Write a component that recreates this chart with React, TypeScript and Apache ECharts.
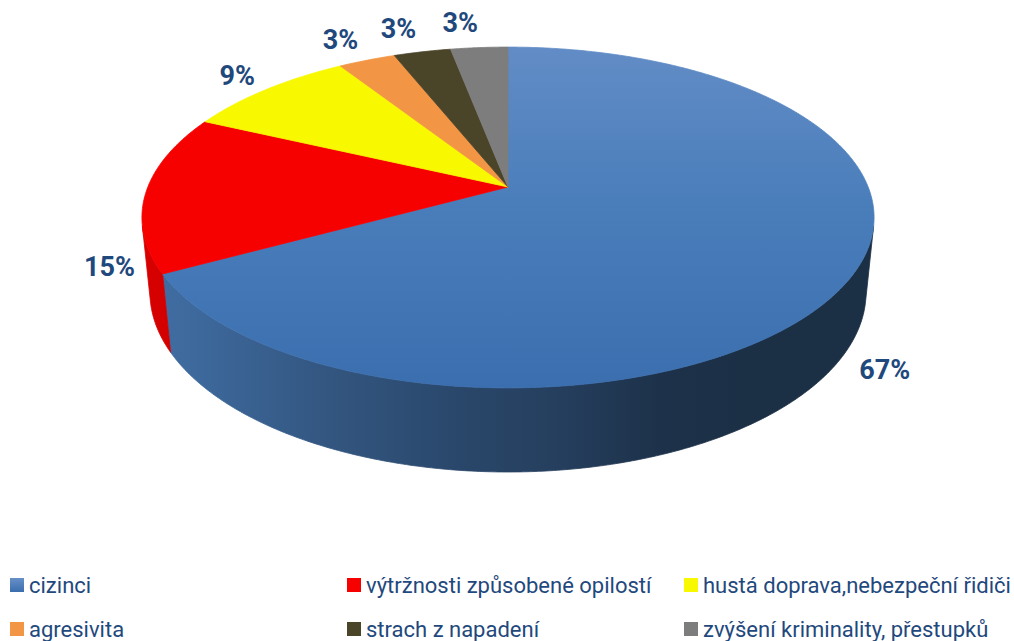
import React, { useEffect, useRef } from 'react';
import * as echarts from 'echarts';

// ---- data ----
const CATEGORIES = [
  'cizinci',
  'výtržnosti způsobené opilostí',
  'hustá doprava,nebezpeční řidiči',
  'agresivita',
  'strach z napadení',
  'zvýšení kriminality, přestupků',
];
const VALUES = [67, 15, 9, 3, 3, 3];

// ---- styles ----
const COLORS = ['#4a7ebb', '#f70000', '#f8f800', '#f29544', '#4a4429', '#7d7d7d'];
const LABEL_COLOR = '#1f497d';
const LEGEND_FONT = "Roboto, 'Noto Sans', sans-serif";

// ---- derived ----
const TOTAL = VALUES.reduce((a, b) => a + b, 0);
const STARTS = VALUES.map((_, i) => VALUES.slice(0, i).reduce((a, b) => a + b, 0) / TOTAL);
const ENDS = STARTS.map((s, i) => s + VALUES[i] / TOTAL);

// ---- 3D projection (perspective) ----
const CX = 508;
const CY = 187;
const FOCAL = 1790;
const DIST = 4.97;
const SIN_T = 0.458;
const COS_T = Math.sqrt(1 - SIN_T * SIN_T);
const DEPTH = 0.235;
const TWO_PI = Math.PI * 2;

function proj(X: number, Z: number, H: number): number[] {
  const yc = Z * SIN_T + H * COS_T;
  const zc = DIST + Z * COS_T - H * SIN_T;
  return [CX + (FOCAL * X) / zc, CY - (FOCAL * yc) / zc];
}

// visible outer wall range (angle clockwise from far point)
const VIS_K = 1 / (DIST * COS_T);
const VIS0 = Math.acos(-VIS_K);
const VIS1 = TWO_PI - VIS0;

function arc(a0: number, a1: number, H: number): number[][] {
  const n = Math.max(2, Math.ceil((a1 - a0) / (Math.PI / 360)));
  const pts: number[][] = [];
  for (let k = 0; k <= n; k++) {
    const a = a0 + ((a1 - a0) * k) / n;
    pts.push(proj(Math.sin(a), Math.cos(a), H));
  }
  return pts;
}

function hexToRgb(hex: string): number[] {
  const h = hex.replace('#', '');
  return [0, 2, 4].map((o) => parseInt(h.substr(o, 2), 16));
}
function mixColor(a: number[], b: number[], t: number): string {
  const c = a.map((v, i) => Math.round(v * (1 - t) + b[i] * t));
  return `rgb(${c[0]},${c[1]},${c[2]})`;
}

const WALL_STOPS = [
  [0, 0.2],
  [0.064, 0.25],
  [0.255, 0.5],
  [0.446, 0.7],
  [0.574, 0.8],
  [0.7, 0.96],
  [0.83, 1],
  [1, 1],
];

function wallFill(base: string) {
  const b = hexToRgb(base);
  const dark = b.map((v) => v * 0.37);
  return new echarts.graphic.LinearGradient(
    140,
    0,
    880,
    0,
    WALL_STOPS.map(([o, t]) => ({ offset: o, color: mixColor(b, dark, t) })),
    true
  );
}

function topFill(i: number) {
  if (i === 0) {
    return new echarts.graphic.LinearGradient(
      0,
      47,
      0,
      390,
      [
        { offset: 0, color: '#628cc6' },
        { offset: 0.45, color: '#4a7ebb' },
        { offset: 1, color: '#3b6eae' },
      ],
      true
    );
  }
  return COLORS[i];
}

function wallItem(params: any) {
  const i = params.dataIndex;
  const s = Math.max(STARTS[i] * TWO_PI, VIS0);
  const e = Math.min(ENDS[i] * TWO_PI, VIS1);
  if (e <= s) return { type: 'group', children: [] };
  const top = arc(s, e, 0);
  const bottom = arc(s, e, -DEPTH).reverse();
  const fill = wallFill(COLORS[i]);
  return {
    type: 'polygon',
    shape: { points: top.concat(bottom) },
    style: { fill, stroke: fill, lineWidth: 0.8, lineJoin: 'round' },
  };
}

function topItem(params: any) {
  const i = params.dataIndex;
  const a0 = STARTS[i] * TWO_PI;
  const a1 = ENDS[i] * TWO_PI;
  const pts = [proj(0, 0, 0)].concat(arc(a0, a1, 0));
  const fill = topFill(i);
  return {
    type: 'polygon',
    shape: { points: pts },
    style: { fill, stroke: fill, lineWidth: 0.8, lineJoin: 'round' },
  };
}

const LABEL_SIZE = 27;

function clamp1(v: number) {
  return Math.max(-1, Math.min(1, v));
}

function labelItem(params: any) {
  const i = params.dataIndex;
  const mid = (STARTS[i] + ENDS[i]) * Math.PI;
  const front = Math.cos(mid) < 0;
  const H = front ? -DEPTH : 0;
  const P = proj(Math.sin(mid), Math.cos(mid), H);
  const O = proj(0, 0, H);
  const dx = P[0] - O[0];
  const dy = P[1] - O[1];
  const L = Math.hypot(dx, dy) || 1;
  const ux = dx / L;
  const uy = dy / L;
  const gap = front ? 20 : 14;
  const text = Math.round((VALUES[i] / TOTAL) * 100) + '%';
  const w = text.length * 0.6 * LABEL_SIZE;
  const hh = 22;
  const x = P[0] + ux * gap + (w / 2) * clamp1(ux * 5);
  const y = P[1] + uy * gap + (hh / 2) * clamp1(uy * 2);
  return {
    type: 'text',
    x,
    y,
    style: {
      text,
      fill: LABEL_COLOR,
      fontSize: LABEL_SIZE,
      fontWeight: 'bold',
      fontFamily: 'Roboto, sans-serif',
      align: 'center',
      verticalAlign: 'middle',
      textAlign: 'center',
      textVerticalAlign: 'middle',
    },
  };
}

const LEGEND_LEFT = [10, 347, 684];

export default function App() {
  const ref = useRef<HTMLDivElement>(null);

  useEffect(() => {
    if (!ref.current) return;
    const chart = echarts.init(ref.current, undefined, { renderer: 'svg' });
    const data = VALUES.map((v, i) => ({ name: CATEGORIES[i], value: v }));
    const legendColor = (i: number) =>
      i === 0
        ? new echarts.graphic.LinearGradient(0, 0, 0, 1, [
            { offset: 0, color: '#6790c8' },
            { offset: 1, color: '#3b6eae' },
          ])
        : COLORS[i];
    chart.setOption({
      animation: false,
      backgroundColor: '#ffffff',
      legend: [0, 1, 2].map((c) => ({
        data: [CATEGORIES[c], CATEGORIES[c + 3]],
        orient: 'vertical',
        left: LEGEND_LEFT[c],
        top: 572,
        width: 325,
        height: 100,
        itemWidth: 14,
        itemHeight: 14,
        itemGap: 18,
        padding: 0,
        icon: 'rect',
        selectedMode: false,
        textStyle: {
          fontFamily: LEGEND_FONT,
          fontSize: 22,
          lineHeight: 26,
          color: LABEL_COLOR,
        },
      })),
      series: [
        {
          type: 'pie',
          name: 'legendSource',
          center: [-2000, -2000],
          radius: [0, 1],
          silent: true,
          label: { show: false },
          labelLine: { show: false },
          data: VALUES.map((v, i) => ({
            name: CATEGORIES[i],
            value: v,
            itemStyle: { color: legendColor(i) },
          })),
        },
        {
          type: 'custom',
          name: 'walls',
          coordinateSystem: 'none',
          silent: true,
          z: 1,
          renderItem: wallItem,
          data,
        },
        {
          type: 'custom',
          name: 'tops',
          coordinateSystem: 'none',
          silent: true,
          z: 2,
          renderItem: topItem,
          data,
        },
        {
          type: 'custom',
          name: 'labels',
          coordinateSystem: 'none',
          silent: true,
          z: 3,
          renderItem: labelItem,
          data,
        },
      ],
    });
    return () => chart.dispose();
  }, []);

  return (
    <div
      ref={ref}
      style={{ position: 'absolute', left: 0, top: 0, width: 1014, height: 641, background: '#ffffff' }}
    />
  );
}
